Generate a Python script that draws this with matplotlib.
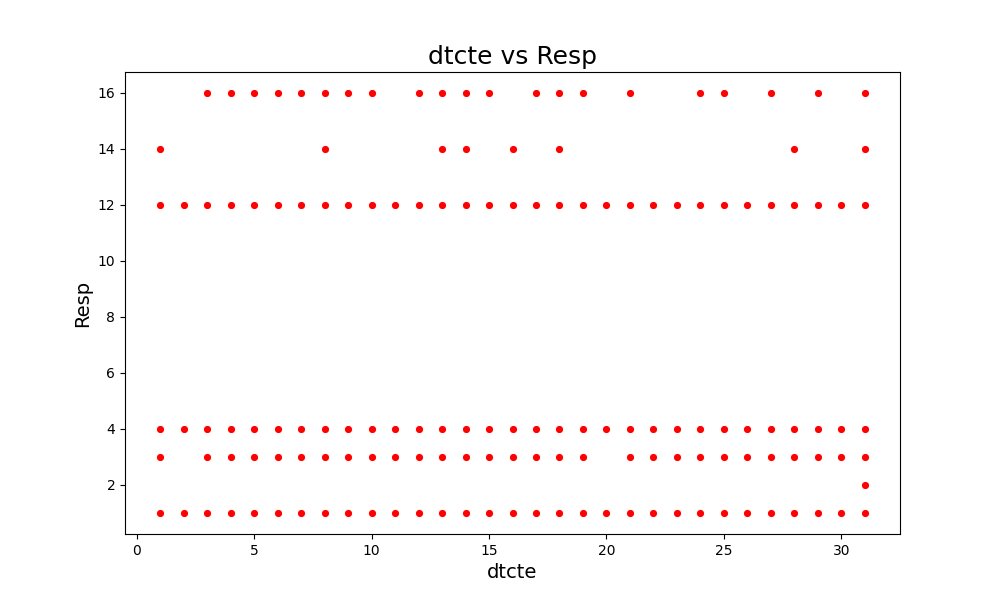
import matplotlib
matplotlib.use("Agg")
import matplotlib.pyplot as plt

days = list(range(1, 32))
resp16 = [3, 4, 5, 6, 7, 8, 9, 10, 12, 13, 14, 15, 17, 18, 19, 21, 24, 25, 27, 29, 31]
resp14 = [1, 8, 13, 14, 16, 18, 28, 31]
resp12 = days
resp4 = days
resp3 = [d for d in days if d not in (2, 20)]
resp2 = [31]
resp1 = days

groups = [(16, resp16), (14, resp14), (12, resp12), (4, resp4), (3, resp3), (2, resp2), (1, resp1)]
xs, ys = [], []
for r, ds in groups:
    xs += ds
    ys += [r] * len(ds)

fig, ax = plt.subplots(figsize=(10, 6), dpi=100)
ax.scatter(xs, ys, c="red", s=36, edgecolors="white", linewidths=0.8)
ax.set_title("dtcte vs Resp", fontsize=18)
ax.set_xlabel("dtcte", fontsize=14)
ax.set_ylabel("Resp", fontsize=14)
fig.savefig("out.png")
